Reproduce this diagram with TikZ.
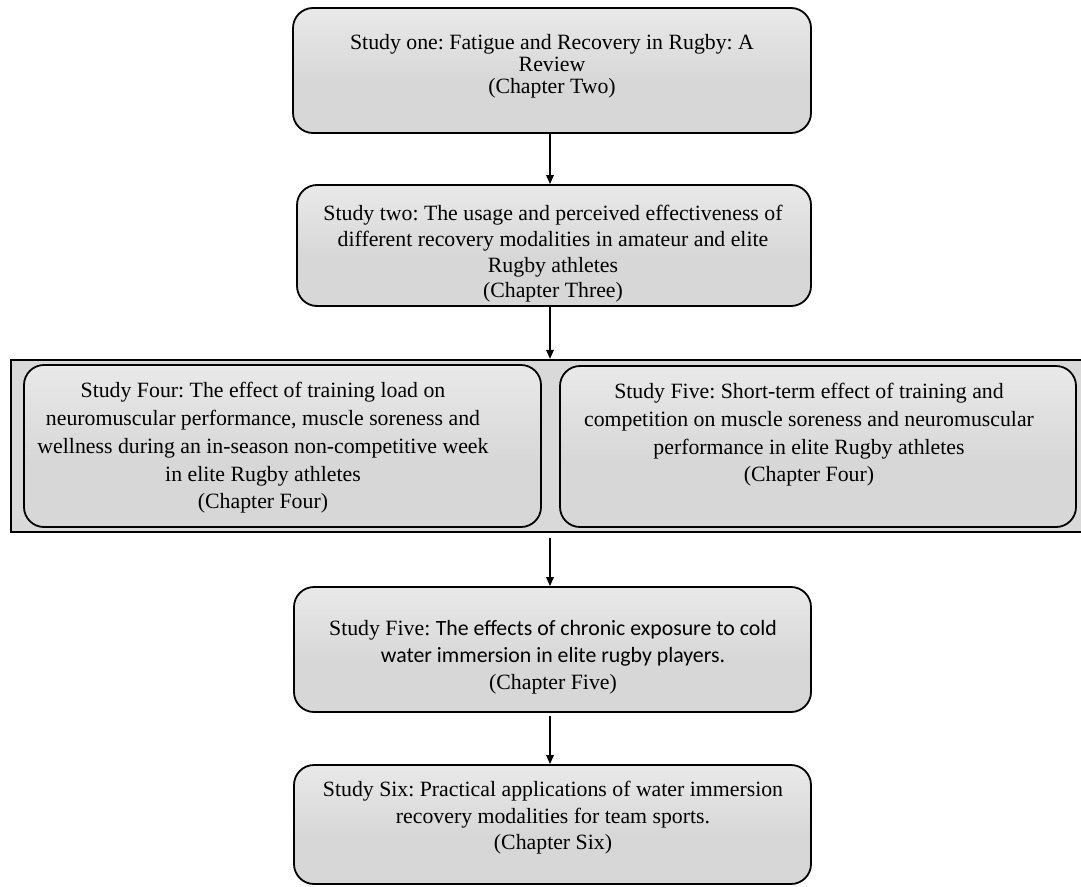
\documentclass[tikz,border=0pt]{standalone}
\usepackage{fontspec}
\setmainfont{Liberation Serif}
\newfontfamily\calfont{Carlito}
\usetikzlibrary{arrows.meta}
\definecolor{topc}{HTML}{F8F8F8}
\definecolor{botc}{HTML}{D7D7D7}
\definecolor{framec}{HTML}{D9D9D9}
\pgfdeclareverticalshading{boxshade}{100bp}{color(0bp)=(botc); color(45bp)=(botc); color(100bp)=(topc)}
\tikzset{
  stbox/.style={draw=black, line width=1.8pt, rounded corners=20pt, shading=boxshade, inner sep=0pt},
  grpbox/.style={draw=black, line width=2.2pt, fill=framec, inner sep=0pt},
  txt/.style={align=center, inner sep=0pt},
  arr/.style={-{Triangle[length=9pt,width=7.5pt]}, line width=1.6pt, black},
}
\begin{document}
\frenchspacing
\begin{tikzpicture}[x=1pt,y=-1pt]
\useasboundingbox (0,0) rectangle (1081,886);
% boxes
\node[stbox, minimum width=518pt, minimum height=125pt] (b1) at (552,70.5) {};
\node[txt, font=\fontsize{21.8}{22}\selectfont] (t1) at (552,66) {Study one: Fatigue and Recovery in Rugby: A\\Review\\(Chapter Two)};

\node[stbox, minimum width=514pt, minimum height=121pt] (b2) at (554,245.5) {};
\node[txt, font=\fontsize{21.8}{25.7}\selectfont] (t2) at (553,254) {Study two: The usage and perceived effectiveness of\\different recovery modalities in amateur and elite\\Rugby athletes\\(Chapter Three)};

\node[grpbox, minimum width=1072pt, minimum height=172pt] (grp) at (547,446) {};
\node[stbox, minimum width=517pt, minimum height=162pt] (b3a) at (282.5,446) {};
\node[txt, font=\fontsize{21.8}{27.8}\selectfont] (t3a) at (263,448) {Study Four: The effect of training load on\\neuromuscular performance, muscle soreness and\\wellness during an in-season non-competitive week\\in elite Rugby athletes\\(Chapter Four)};
\node[stbox, minimum width=516pt, minimum height=161pt] (b3b) at (818,446.5) {};
\node[txt, font=\fontsize{21.8}{27.7}\selectfont] (t3b) at (809,435) {Study Five: Short-term effect of training and\\competition on muscle soreness and neuromuscular\\performance in elite Rugby athletes\\(Chapter Four)};

\node[stbox, minimum width=517pt, minimum height=125pt] (b4) at (552.5,649.5) {};
\node[txt, font=\fontsize{21.8}{27}\selectfont] (t4) at (553,657) {Study Five: {\calfont The effects of chronic exposure to cold}\\{\calfont water immersion in elite rugby players.}\\(Chapter Five)};

\node[stbox, minimum width=517pt, minimum height=119pt] (b5) at (552.5,824.5) {};
\node[txt, font=\fontsize{21.8}{26.5}\selectfont] (t5) at (553,818) {Study Six: Practical applications of water immersion\\recovery modalities for team sports.\\(Chapter Six)};

% connectors
\draw[arr] (b1.south -| 550,0) -- (b2.north -| 550,0);
\draw[arr] (b2.south -| 550,0) -- (grp.north -| 550,0);
\draw[arr, shorten <=5pt] (grp.south -| 550,0) -- (b4.north -| 550,0);
\draw[arr, shorten <=3pt] (b4.south -| 550,0) -- (b5.north -| 550,0);
\end{tikzpicture}
\end{document}
